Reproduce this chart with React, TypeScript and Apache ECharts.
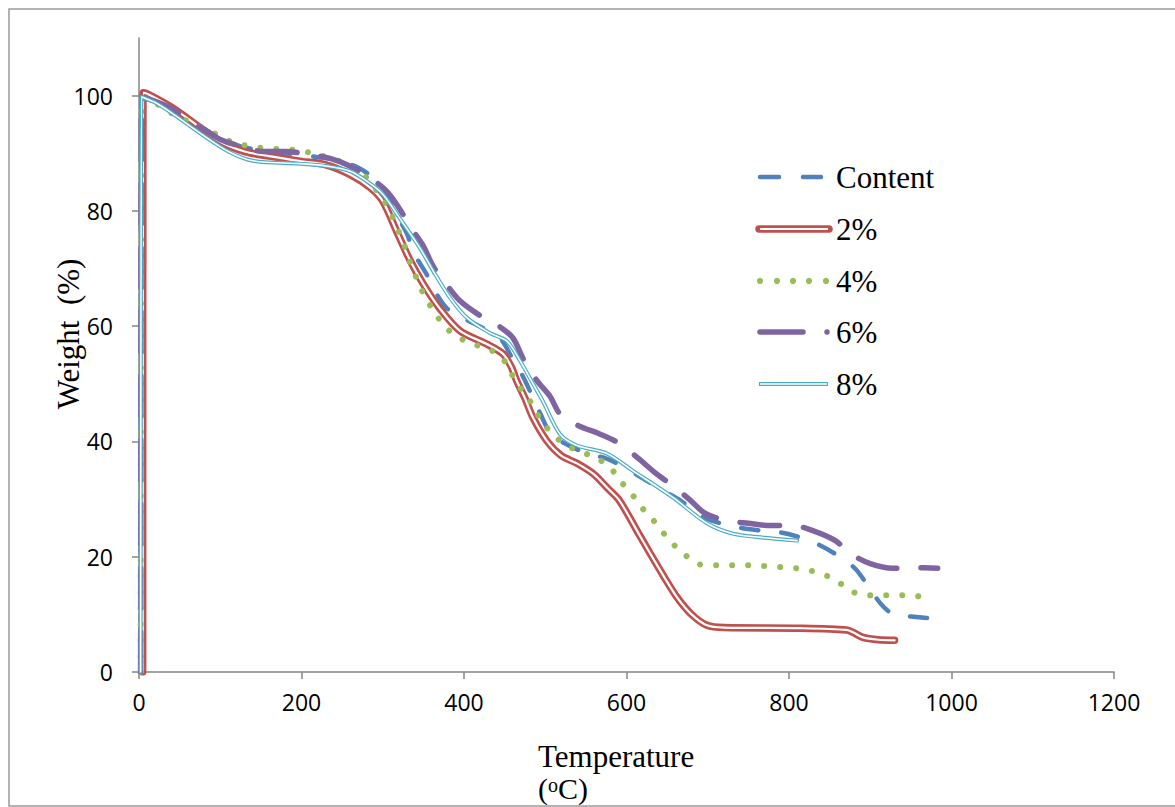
import React, { useEffect, useRef } from 'react';
import * as echarts from 'echarts';

// ---- data ----
const xTicks = [0, 200, 400, 600, 800, 1000, 1200];
const yTicks = [0, 20, 40, 60, 80, 100];
const seriesNames = ['Content', '2%', '4%', '6%', '8%'];

const contentT = [2, 3, 4, 20, 40, 60, 80, 100, 125, 150, 200, 240, 270, 290, 305, 313, 330, 337, 354, 362, 379, 399, 423, 444, 460, 471, 485, 494, 506, 522, 550, 576, 600, 620, 645, 666, 690, 711, 737, 762, 790, 813, 838, 860, 881, 897, 912, 925, 940, 960, 982];
const contentW = [0, 99.8, 99.75, 99, 97.8, 96, 94.2, 92.6, 91.2, 90.5, 89.7, 88.9, 87.5, 85.5, 83, 80.4, 76, 73, 69, 66.6, 63.1, 61.4, 59.7, 58, 54.3, 51.7, 47.6, 44.8, 41.5, 39.8, 38, 37, 35.3, 33.6, 31.5, 29.8, 27.2, 26, 25.1, 24.6, 24.2, 23.4, 22, 20.2, 18, 15, 12, 10.3, 9.8, 9.5, 9.2];

const p2T = [4.5, 5, 6, 12, 40, 70, 100, 130, 160, 200, 230, 260, 285, 300, 317, 334, 350, 370, 395, 428, 448, 458, 465, 475, 485, 502, 520, 539, 560, 576, 590, 601, 615, 629, 645, 662, 680, 699, 720, 814, 871, 880, 891, 910, 930];
const p2W = [0, 100.5, 100.5, 100.2, 98, 95, 92, 90.3, 89.5, 88.6, 88, 86.3, 84, 81.7, 76.5, 71.3, 67.3, 63.1, 59.2, 56.9, 55.2, 53, 50.5, 47.5, 44.1, 40.1, 37.5, 36.2, 34.3, 32, 30, 27.5, 24, 20.6, 16.8, 13, 10, 8.1, 7.7, 7.6, 7.3, 6.8, 6, 5.6, 5.5];

const p4T = [2, 3, 4, 11, 29, 50, 84, 100, 119, 139, 158, 177, 198, 218, 238, 256, 276, 299, 309, 317, 325, 331, 338, 346, 355, 366, 378, 394, 411, 431, 447, 457, 467, 479, 489, 500, 513, 529, 548, 566, 582, 594, 607, 619, 632, 645, 658, 673, 689, 710, 750, 790, 810, 829, 848, 865, 882, 902, 921, 941, 962];
const p4W = [0, 99.6, 99.55, 99.5, 97.9, 96.2, 94.1, 92.9, 91.7, 91.2, 90.8, 90.7, 90.5, 89.8, 89.1, 88, 86.3, 82.3, 79.9, 77.3, 74.7, 72.1, 69.6, 66.8, 64.4, 61.9, 59.7, 58, 56.9, 56, 54.5, 52.1, 49.7, 47.6, 45, 42.7, 40.7, 39.1, 38, 36.9, 35.1, 32.9, 30.8, 28.5, 26.5, 24.2, 22.1, 20.2, 18.7, 18.5, 18.5, 18.2, 18, 17.5, 16.6, 15.2, 13.7, 13.3, 13.3, 13.3, 13.1];

const p6T = [2, 3, 4, 20, 40, 59, 84, 100, 125, 153, 180, 210, 235, 256, 280, 305, 321, 335, 350, 362, 378, 395, 417, 440, 460, 473, 490, 506, 518, 540, 567, 592, 615, 635, 656, 677, 697, 723, 750, 777, 805, 830, 857, 875, 900, 928, 953, 983];
const p6W = [0, 99.8, 99.75, 99, 97.8, 96, 93.8, 92.4, 91.2, 90.3, 90.3, 89.8, 89.1, 88, 86.2, 83.4, 80.3, 77, 73.9, 70.4, 67.3, 64.4, 62.1, 60.3, 58, 54.3, 50.5, 47.8, 44.8, 42.8, 41.3, 39.6, 37, 34.6, 32.4, 30, 27.5, 26.3, 25.8, 25.4, 25.4, 24.5, 22.8, 20.6, 18.8, 18, 18.1, 18];

const p8T = [2, 3, 4, 20, 40, 75, 110, 140, 198, 230, 260, 280, 300, 321, 346, 362, 383, 404, 432, 453, 469, 485, 497, 518, 539, 576, 608, 657, 699, 731, 770, 810];
const p8W = [0, 99.8, 99.75, 98.8, 97, 93.5, 90.3, 88.7, 88.2, 87.8, 86.9, 85.2, 82.9, 78.7, 73.5, 69.6, 64.9, 61.4, 58.8, 57.4, 54, 50, 47, 41.3, 39.3, 37.9, 34.9, 30.3, 25.8, 24, 23.3, 22.8];

const colors = ['#4F81BD', '#C0504D', '#9BBB59', '#8064A2', '#4BACC6'];

const pairs = (t: number[], w: number[]) => t.map((x, i) => [x, w[i]]);

const SERIF = '"Liberation Serif", "Times New Roman", serif';
const SANS = '"Open Sans", sans-serif';

export default function App() {
  const ref = useRef<HTMLDivElement>(null);

  useEffect(() => {
    const chart = echarts.init(ref.current!, null, { renderer: 'svg' });

    const base = (name: string, data: number[][], lineStyle: any, z: number) => ({
      name,
      type: 'line',
      data,
      smooth: 0.3,
      symbol: 'none',
      showSymbol: false,
      silent: true,
      emphasis: { disabled: true },
      z,
      lineStyle: { cap: 'round', join: 'round', ...lineStyle },
    });

    const series = [
      base(seriesNames[0], pairs(contentT, contentW), { color: colors[0], width: 4.5, type: [17, 23] }, 2),
      base(seriesNames[1], pairs(p2T, p2W), { color: colors[1], width: 7.5 }, 3),
      base(seriesNames[1] + ' inner', pairs(p2T, p2W), { color: '#ffffff', width: 2.2 }, 3),
      base(seriesNames[2], pairs(p4T, p4W), { color: colors[2], width: 6, type: [0.01, 16] }, 4),
      base(seriesNames[3], pairs(p6T, p6W), { color: colors[3], width: 5.5, type: [40, 24] }, 5),
      base(seriesNames[4], pairs(p8T, p8W), { color: colors[4], width: 4 }, 6),
      base(seriesNames[4] + ' inner', pairs(p8T, p8W), { color: '#ffffff', width: 1.6 }, 6),
    ];

    const legendY = [177.5, 229.5, 281.5, 332.5, 384.5];
    const legendGraphics: any[] = [];
    legendGraphics.push(
      // Content: two dashes
      { type: 'line', shape: { x1: 760, y1: 177, x2: 779, y2: 177 }, style: { stroke: colors[0], lineWidth: 4.5, lineCap: 'round' } },
      { type: 'line', shape: { x1: 803, y1: 177, x2: 821, y2: 177 }, style: { stroke: colors[0], lineWidth: 4.5, lineCap: 'round' } },
      // 2%
      { type: 'line', shape: { x1: 759, y1: 229, x2: 829, y2: 229 }, style: { stroke: colors[1], lineWidth: 7.5, lineCap: 'round' } },
      { type: 'line', shape: { x1: 760, y1: 229, x2: 828, y2: 229 }, style: { stroke: '#ffffff', lineWidth: 2.2 } },
      // 6%
      { type: 'line', shape: { x1: 760, y1: 332, x2: 803, y2: 332 }, style: { stroke: colors[3], lineWidth: 5.5, lineCap: 'round' } },
      { type: 'circle', shape: { cx: 827, cy: 332, r: 2.8 }, style: { fill: colors[3] } },
      // 8%
      { type: 'line', shape: { x1: 759, y1: 384, x2: 828, y2: 384 }, style: { stroke: colors[4], lineWidth: 4 } },
      { type: 'line', shape: { x1: 760, y1: 384, x2: 827, y2: 384 }, style: { stroke: '#ffffff', lineWidth: 1.6 } },
    );
    [760, 777, 793, 809, 826].forEach((cx) =>
      legendGraphics.push({ type: 'circle', shape: { cx, cy: 281, r: 3.1 }, style: { fill: colors[2] } })
    );
    seriesNames.forEach((n, i) =>
      legendGraphics.push({
        type: 'text',
        x: 836,
        y: legendY[i],
        style: { text: n, font: `31px ${SERIF}`, fill: '#000', align: 'left', verticalAlign: 'middle' },
      })
    );

    const fmt = (v: number) => String(v);

    const option: any = {
      animation: false,
      backgroundColor: '#ffffff',
      grid: { left: 139, right: 61, top: 38, bottom: 135, containLabel: false },
      xAxis: {
        type: 'value',
        min: 0,
        max: 1200,
        interval: 200,
        axisLine: { show: true, onZero: false, lineStyle: { color: '#868686', width: 1.5 } },
        axisTick: { show: true, length: 7, lineStyle: { color: '#868686', width: 1.5 }, customValues: xTicks },
        axisLabel: { color: '#000', fontSize: 23, fontFamily: SANS, margin: 18, customValues: xTicks, formatter: fmt },
        splitLine: { show: false },
      },
      yAxis: {
        type: 'value',
        min: 0,
        max: 110,
        interval: 20,
        axisLine: { show: true, onZero: false, lineStyle: { color: '#868686', width: 1.5 } },
        axisTick: { show: true, length: 7, lineStyle: { color: '#868686', width: 1.5 }, customValues: yTicks },
        axisLabel: { color: '#000', fontSize: 23, fontFamily: SANS, margin: 26, customValues: yTicks, formatter: fmt },
        splitLine: { show: false },
      },
      series,
      graphic: [
        {
          type: 'rect',
          silent: true,
          shape: { x: 9, y: 9, width: 1200, height: 797 },
          style: { fill: 'none', stroke: '#9a9a9a', lineWidth: 1.5 },
          z: 0,
        },
        {
          type: 'text',
          x: 68,
          y: 334,
          rotation: Math.PI / 2,
          style: { text: 'Weight  (%)', font: `31px ${SERIF}`, fill: '#000', align: 'center', verticalAlign: 'middle' },
        },
        {
          type: 'text',
          x: 538,
          y: 756.5,
          style: { text: 'Temperature', font: `31px ${SERIF}`, lineHeight: 27, fill: '#000', align: 'left', verticalAlign: 'middle' },
        },
        {
          type: 'text',
          x: 538,
          y: 788,
          style: {
            text: '{a|(}{b|o}{a|C)}',
            fill: '#000',
            align: 'left',
            verticalAlign: 'middle',
            rich: {
              a: { fontSize: 30, fontFamily: SERIF, fill: '#000', lineHeight: 27 },
              b: { fontSize: 20, fontFamily: SERIF, fill: '#000', verticalAlign: 'top', lineHeight: 20 },
            },
          },
        },
        ...legendGraphics,
      ],
    };

    chart.setOption(option);
    return () => chart.dispose();
  }, []);

  return (
    <div
      ref={ref}
      style={{ position: 'fixed', left: 0, top: 0, width: 1175, height: 807, background: '#fff' }}
    />
  );
}
